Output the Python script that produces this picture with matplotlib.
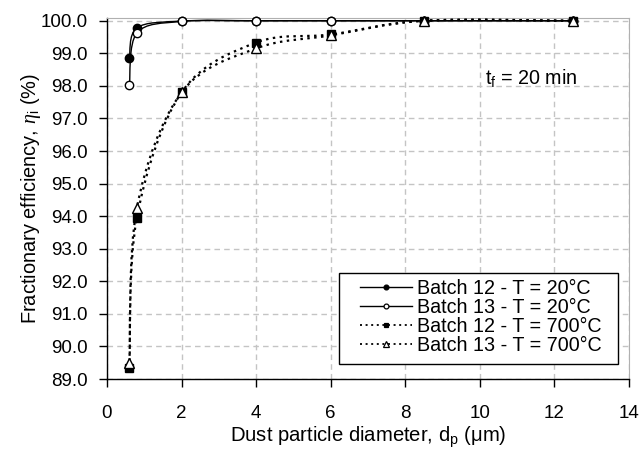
import matplotlib
matplotlib.use("Agg")
import matplotlib.pyplot as plt
from matplotlib.path import Path
from matplotlib.patches import PathPatch, Rectangle
from matplotlib.lines import Line2D
import numpy as np

plt.rcParams['font.family'] = ['Liberation Sans', 'DejaVu Sans']
plt.rcParams['mathtext.fontset'] = 'custom'
plt.rcParams['mathtext.rm'] = 'Liberation Sans'
plt.rcParams['mathtext.it'] = 'Liberation Serif:italic'

# Particle diameters (um) and fractional efficiencies (%)
diameter = [0.6, 0.8, 2.0, 4.0, 6.0, 8.5, 12.5]
batch12_20 = [98.85, 99.78, 99.99, 100.0, 100.0, 100.0, 100.0]
batch13_20 = [98.02, 99.62, 99.98, 100.0, 100.0, 100.0, 100.0]
batch12_700 = [89.35, 93.95, 97.8, 99.33, 99.58, 100.0, 100.0]
batch13_700 = [89.5, 94.25, 97.8, 99.15, 99.55, 100.0, 100.0]

labels = ["Batch 12 - T = 20°C", "Batch 13 - T = 20°C",
          "Batch 12 - T = 700°C", "Batch 13 - T = 700°C"]
x_ticks = [0, 2, 4, 6, 8, 10, 12, 14]
y_ticks = [89.0, 90.0, 91.0, 92.0, 93.0, 94.0, 95.0, 96.0, 97.0, 98.0, 99.0, 100.0]

W, H = 639, 451


def smooth_path(xs, ys):
    """Cubic Bezier path through the points (Catmull-Rom style tangents)."""
    p = np.column_stack([xs, ys]).astype(float)
    n = len(p)
    verts = [p[0]]
    codes = [Path.MOVETO]
    for i in range(n - 1):
        p0 = p[i - 1] if i > 0 else p[i]
        p1 = p[i]
        p2 = p[i + 1]
        p3 = p[i + 2] if i + 2 < n else p[i + 1]
        c1 = p1 + (p2 - p0) / 6.0
        c2 = p2 - (p3 - p1) / 6.0
        verts += [c1, c2, p2]
        codes += [Path.CURVE4] * 3
    return Path(verts, codes)


fig = plt.figure(figsize=(W / 100, H / 100), dpi=100)
ax = fig.add_axes([107 / W, 1 - 379 / H, 522 / W, (379 - 17.5) / H])

dotted = (0, (1.1, 2.0))
series = [
    (batch12_20, '-', dict(marker='o', mfc='black', mec='black', ms=6)),
    (batch13_20, '-', dict(marker='o', mfc='white', mec='black', ms=6)),
    (batch12_700, dotted, dict(marker='s', mfc='black', mec='black', ms=5.5)),
    (batch13_700, dotted, dict(marker='^', mfc='white', mec='black', ms=6.5)),
]

handles = []
for (vals, ls, mk), lab in zip(series, labels):
    lw = 1.0 if ls == '-' else 1.6
    patch = PathPatch(smooth_path(diameter, vals), fill=False, edgecolor='black',
                      linewidth=lw, linestyle=ls, zorder=3)
    ax.add_patch(patch)
    ax.plot(diameter, vals, linestyle='none', markeredgewidth=1.0, zorder=4,
            clip_on=False, **mk)
    h_mk = dict(mk)
    h_mk['ms'] = mk['ms'] * 0.58
    handles.append(Line2D([], [], color='black', linewidth=lw if ls == '-' else 1.3,
                          linestyle=ls, markeredgewidth=0.9, **h_mk))

ax.set_xlim(0, 14)
ax.set_ylim(89.0, 100.1)
ax.set_xticks(x_ticks)
ax.set_yticks(y_ticks)
ax.set_yticklabels([f"{v:.1f}" for v in y_ticks])

ax.grid(True, color='#c4c4c4', linestyle=(0, (4, 3)), linewidth=1.0)
ax.set_axisbelow(True)

for side in ('top', 'right'):
    ax.spines[side].set_color('#b0b0b0')
for side in ('left', 'bottom'):
    ax.spines[side].set_color('black')
    ax.spines[side].set_linewidth(1.0)

ax.tick_params(axis='both', direction='out', length=6, width=1.0,
               labelsize=13.5, colors='black')
ax.tick_params(axis='x', pad=13)
ax.tick_params(axis='y', pad=8)

ax.set_xlabel('Dust particle diameter, d$_\\mathregular{p}$ (μm)', fontsize=14.6,
              labelpad=1.5)
ax.set_ylabel('Fractionary efficiency, $\\eta$$_\\mathregular{i}$ (%)', fontsize=14.4,
              labelpad=-2)

ax.text(0.812, 0.832, 't$_\\mathregular{f}$ = 20 min', transform=ax.transAxes,
        fontsize=14.2, ha='center', va='center')

# Legend box with wide side margins
frame = Rectangle((339 / W, 1 - 364 / H), (618 - 339) / W, (364 - 273) / H,
                  transform=fig.transFigure, facecolor='white', edgecolor='black',
                  linewidth=1.0, zorder=4.5, clip_on=False)
ax.add_patch(frame)
leg = ax.legend(handles, labels, loc='upper left',
                bbox_to_anchor=(360 / W, 1 - 279 / H), bbox_transform=fig.transFigure,
                fontsize=14.2, frameon=False, handlelength=2.64, handletextpad=0.25,
                labelspacing=0.0, borderpad=0.0, borderaxespad=0.0)
leg.set_zorder(5)

fig.savefig('out.png', dpi=100)
